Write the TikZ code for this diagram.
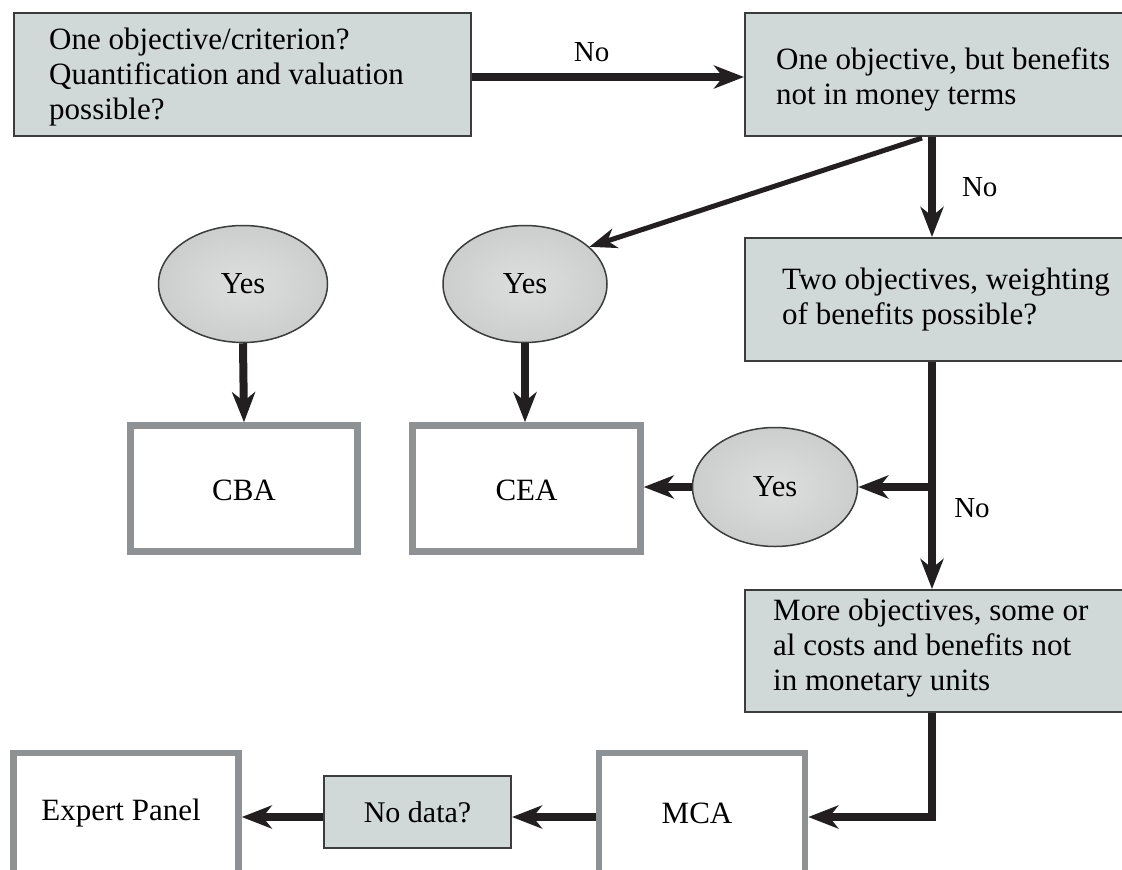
\documentclass[tikz,border=0pt]{standalone}
\usepackage{fontspec}
\setmainfont{Liberation Serif}
\usetikzlibrary{arrows.meta,shapes.geometric}
\definecolor{qfill}{RGB}{208,216,216}
\definecolor{qdraw}{RGB}{60,60,60}
\definecolor{wdraw}{RGB}{142,146,148}
\definecolor{arrc}{RGB}{35,31,32}
\definecolor{einner}{RGB}{222,222,222}
\definecolor{eouter}{RGB}{204,206,206}
\tikzset{
  qbox/.style={draw=qdraw,line width=2pt,fill=qfill,inner sep=0pt},
  wbox/.style={draw=wdraw,line width=6.5pt,fill=white,inner sep=0pt},
  yesell/.style={ellipse,draw=qdraw,line width=1.5pt,inner color=einner,outer color=eouter,inner sep=0pt,font=\fontsize{30.5}{34}\selectfont},
  txt/.style={align=left,inner sep=0pt,font=\fontsize{31}{35}\selectfont,anchor=west},
  ctxt/.style={inner sep=0pt,font=\fontsize{31}{35}\selectfont},
  lbl/.style={inner sep=0pt,font=\fontsize{29}{33}\selectfont},
  arr/.style={draw=arrc,line width=8pt,line join=miter,-{Stealth[length=30pt,width=23pt,inset=9pt]}},
  arrthin/.style={draw=arrc,line width=5pt,-{Stealth[length=27pt,width=20pt,inset=8pt]}}
}
\begin{document}
\begin{tikzpicture}[x=1pt,y=-1pt]
\useasboundingbox (0,0) rectangle (1122,870);
% decision boxes
\node[qbox,minimum width=457pt,minimum height=123pt] (tl) at (242.5,74.5) {};
\node[txt] (tlt) at (49,77) {One objective/criterion?\\Quantification and valuation\\possible?};
\node[qbox,minimum width=395pt,minimum height=123pt] (tr) at (942.5,74.5) {};
\node[txt] (trt) at (776,79) {One objective, but benefits\\not in money terms};
\node[qbox,minimum width=395pt,minimum height=123pt] (two) at (942.5,299.5) {};
\node[txt] (twot) at (782,300) {Two objectives, weighting\\of benefits possible?};
\node[qbox,minimum width=395pt,minimum height=122pt] (more) at (942.5,651) {};
\node[txt] (moret) at (773,648) {More objectives, some or\\al costs and benefits not\\in monetary units};
\node[qbox,minimum width=187pt,minimum height=72pt,font=\fontsize{30}{34}\selectfont] (nodata) at (417.5,812) {No data?};
% ellipses
\node[yesell,minimum width=169pt,minimum height=117pt] (e1) at (243,284) {Yes};
\node[yesell,minimum width=164pt,minimum height=117pt] (e2) at (525,284) {Yes};
\node[yesell,minimum width=165pt,minimum height=119pt] (e3) at (775,487) {Yes};
% result boxes
\node[wbox,minimum width=227pt,minimum height=126pt] (cba) at (244,488.5) {};
\node[ctxt] (cbat) at (244,490) {CBA};
\node[wbox,minimum width=228pt,minimum height=126pt] (cea) at (526.5,488.5) {};
\node[ctxt] (ceat) at (526.5,490) {CEA};
\node[wbox,minimum width=225pt,minimum height=150pt] (expert) at (126,828) {};
\node[ctxt] (expertt) at (121,813) {Expert Panel};
\node[wbox,minimum width=206pt,minimum height=150pt] (mca) at (702,828) {};
\node[ctxt] (mcat) at (697,813) {MCA};
% helper coordinates
\coordinate (vx) at (932,0);
\coordinate (by) at (0,817);
\coordinate (dstart) at (922,138);
% connectors
\draw[arr] ([yshift=-2.5pt]tl.east) -- ([yshift=-2.5pt]tr.west) node[lbl,pos=0.44,above=11pt] (no1) {No};
\draw[arr] (vx|-tr.south) -- (vx|-two.north) node[lbl,midway,right=26pt] (no2) {No};
\draw[arrthin] (dstart) -- (e2.30);
\draw[arr] (e1.south) -- (cba.north);
\draw[arr] (e2.south) -- (e2.south|-cea.north);
\draw[arr] (vx|-two.south) -- (vx|-more.north);
\node[lbl] (no3) at (972,508) {No};
\draw[arr] (vx|-e3.east) -- (e3.east);
\draw[arr] (e3.west) -- (cea.east|-e3.west);
\draw[arr] (vx|-more.south) -- (vx|-by) -- (mca.east|-by);
\draw[arr] (mca.west|-by) -- (nodata.east|-by);
\draw[arr] (nodata.west|-by) -- (expert.east|-by);
\end{tikzpicture}
\end{document}
